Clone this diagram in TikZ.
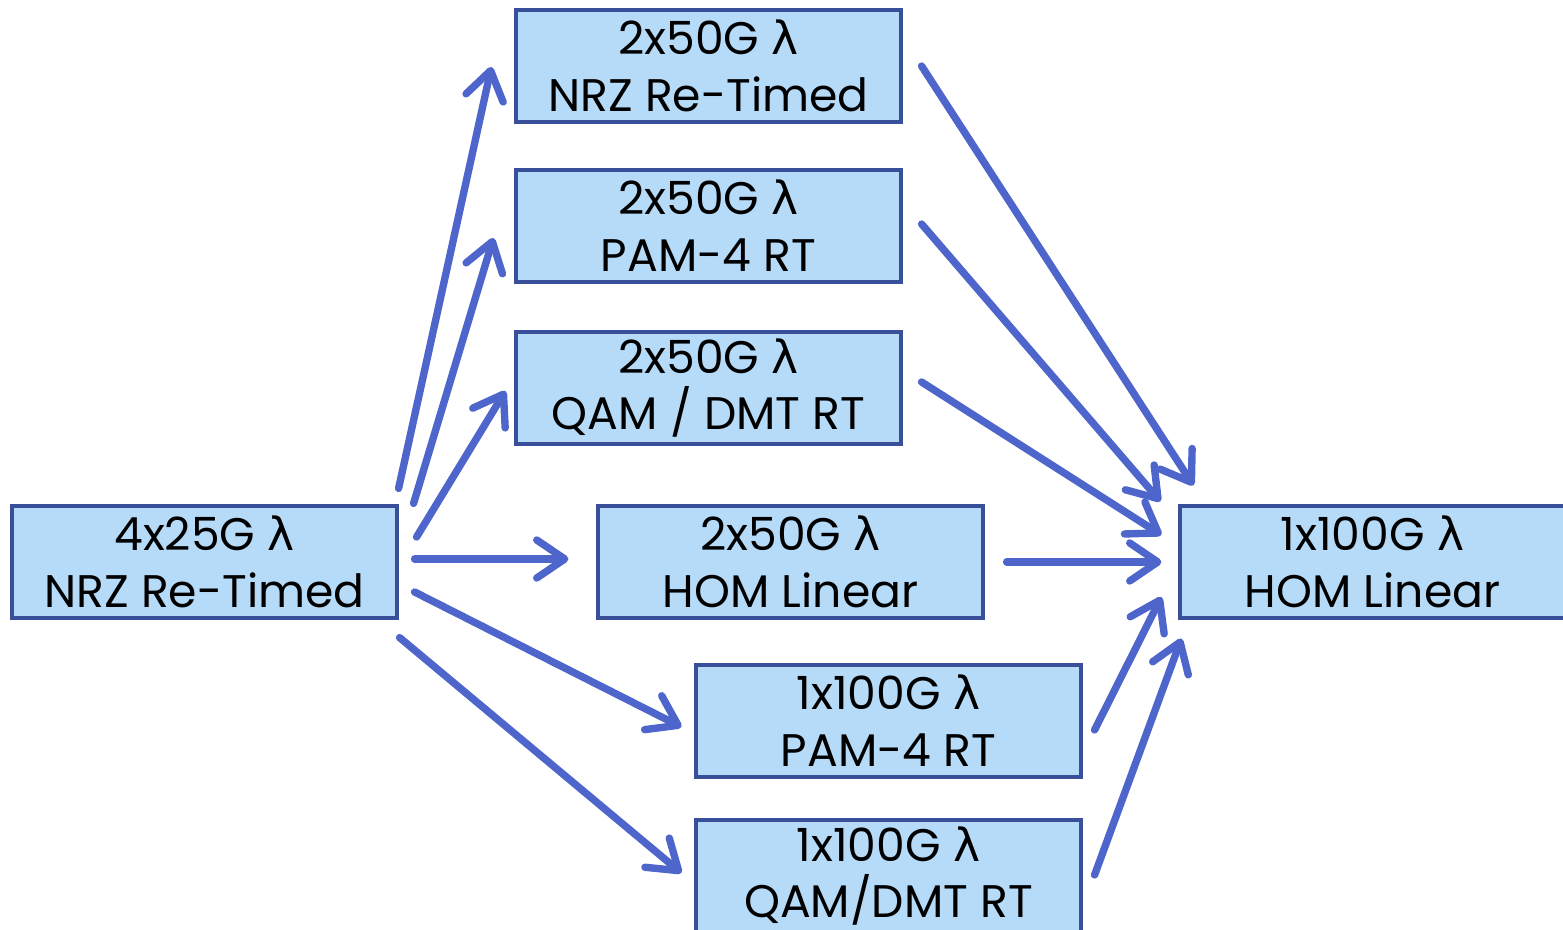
\documentclass[tikz,border=0pt]{standalone}
\usepackage{fontspec}
\setmainfont{Poppins}
\newfontfamily\lamfont{DejaVu Sans}
\newcommand{\lam}{{\lamfont λ}}
\usetikzlibrary{arrows.meta,positioning,calc}
\definecolor{boxfill}{HTML}{B5DBF9}
\definecolor{boxline}{HTML}{3A4F9A}
\definecolor{arrowblue}{HTML}{4E66CC}
\tikzset{
  basic/.style = {draw=boxline, line width=0.9pt, fill=boxfill, rectangle,
                  minimum width=3.85cm, minimum height=1.12cm, inner sep=0pt,
                  align=center, font=\fontsize{13}{16.2}\selectfont},
  conn/.style  = {draw=arrowblue, line width=2.1pt, line cap=round,
                  -{Straight Barb[round, length=0.28cm, width=0.38cm]}}
}

\begin{document}
\begin{tikzpicture}
\useasboundingbox (0,0) rectangle (15.63,-9.30);

% source node
\node[basic] (src) at (2.045,-5.62) {4x25G \lam\\NRZ Re-Timed};

% intermediate options
\node[basic] (t1) at (7.085,-0.66) {2x50G \lam\\NRZ Re-Timed};
\node[basic] (t2) at (7.085,-2.26) {2x50G \lam\\PAM-4 RT};
\node[basic] (t3) at (7.085,-3.88) {2x50G \lam\\QAM / DMT RT};
\node[basic] (mid) at (7.905,-5.62) {2x50G \lam\\HOM Linear};
\node[basic] (l1) at (8.885,-7.21) {1x100G \lam\\PAM-4 RT};
\node[basic] (l2) at (8.885,-8.76) {1x100G \lam\\QAM/DMT RT};

% target node
\node[basic] (dst) at (13.725,-5.62) {1x100G \lam\\HOM Linear};

% arrows out of the source
\draw[conn] ($(src.north east)+(0,0.16)$) -- ($(t1.west)+(-0.23,-0.01)$);
\draw[conn] ($(src.north east)+(0.15,0.01)$) -- ($(t2.west)+(-0.21,-0.12)$);
\draw[conn] ($(src.east)+(0.18,0.25)$) -- ($(t3.west)+(-0.09,-0.03)$);
\draw[conn] ($(src.east)+(0.16,0.03)$) -- ($(mid.west)+(-0.28,0.03)$);
\draw[conn] ($(src.east)+(0.16,-0.30)$) -- ($(l1.west)+(-0.13,-0.06)$);
\draw[conn] ($(src.south east)+(0.01,-0.18)$) -- ($(l2.west)+(-0.13,0.03)$);

% arrows into the target
\draw[conn] ($(t1.east)+(0.19,0)$) -- ($(dst.north west)+(0.15,0.19)$);
\draw[conn] ($(t2.east)+(0.19,0.02)$) -- ($(dst.north west)+(-0.18,0.03)$);
\draw[conn] ($(t3.east)+(0.19,0.06)$) -- ($(dst.west)+(-0.17,0.27)$);
\draw[conn] ($(mid.east)+(0.22,0)$) -- ($(dst.west)+(-0.17,0)$);
\draw[conn] ($(l1.east)+(0.12,-0.09)$) -- ($(dst.west)+(-0.17,-0.35)$);
\draw[conn] ($(l2.east)+(0.12,0.01)$) -- ($(dst.south west)+(0.03,-0.19)$);
\end{tikzpicture}
\end{document}
